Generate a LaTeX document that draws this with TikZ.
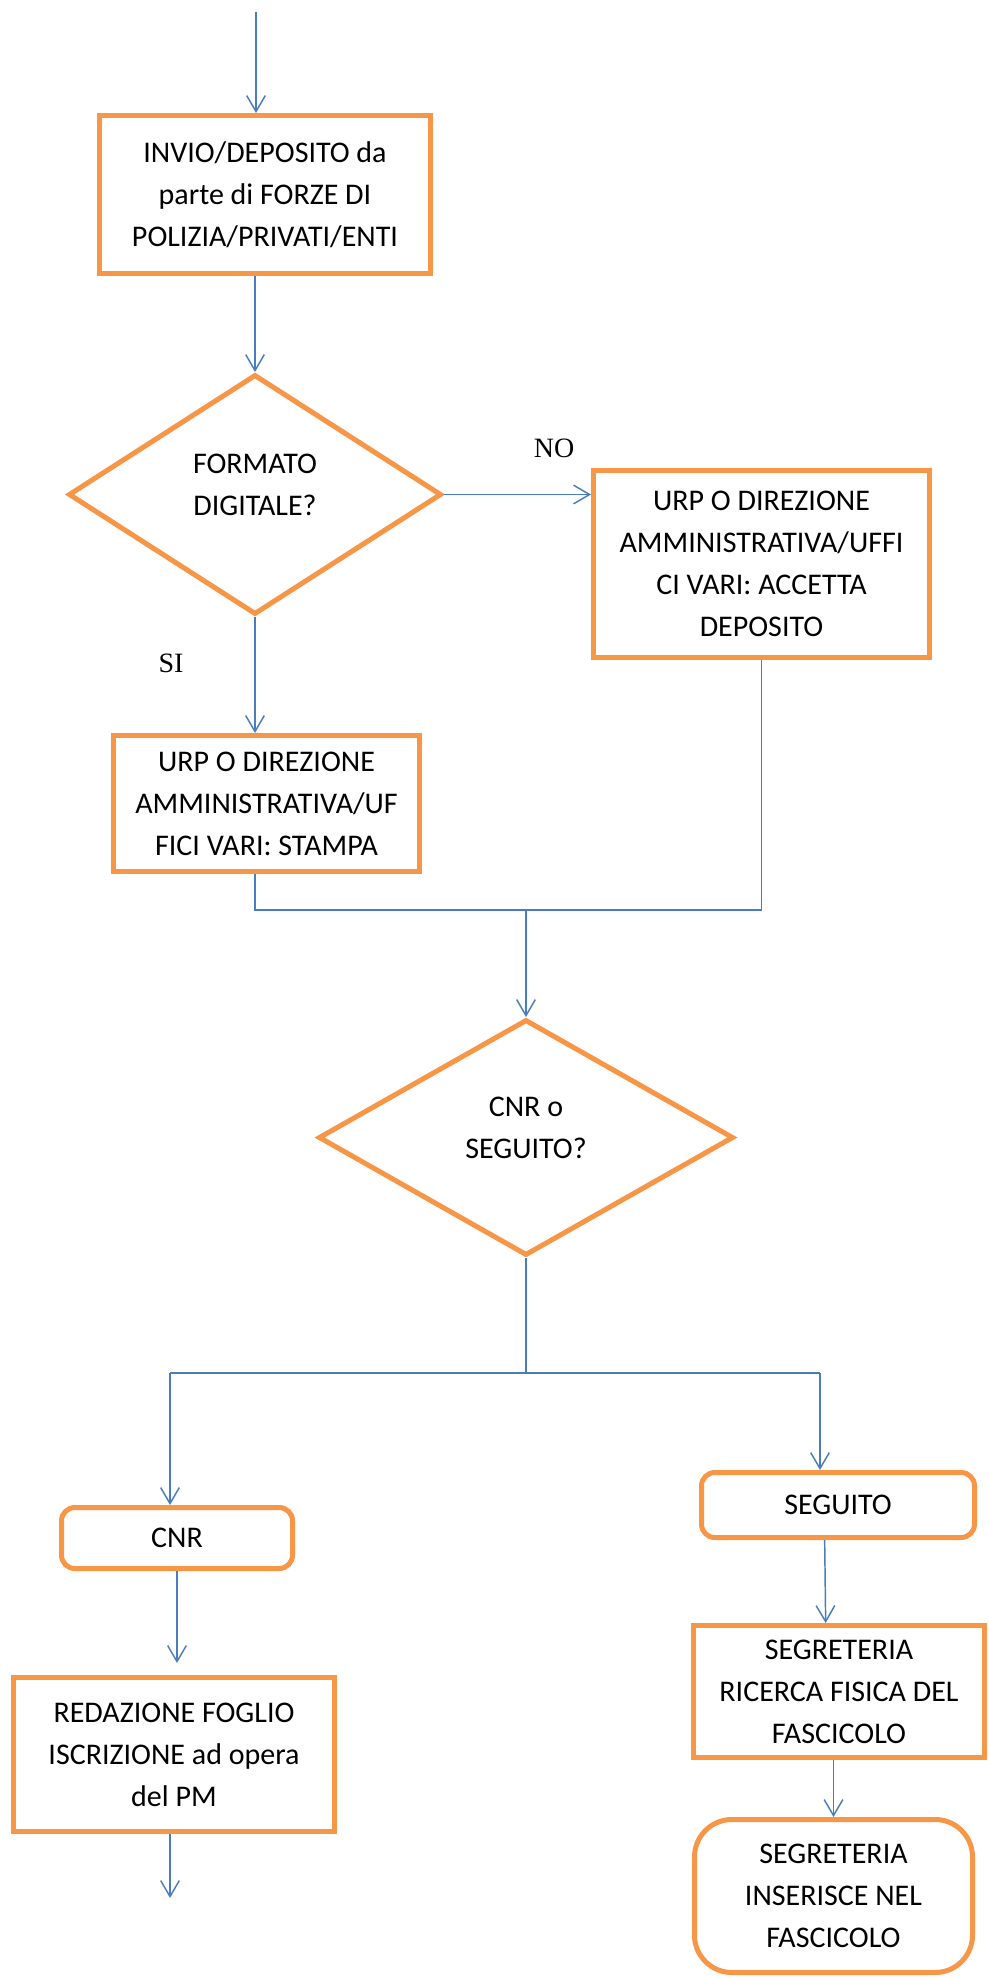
\documentclass[tikz,border=0pt]{standalone}
\usepackage{fontspec}
\setmainfont{Carlito}
\newfontfamily\labelfont{Liberation Serif}
\usetikzlibrary{arrows.meta,shapes.geometric}

\definecolor{boxorange}{HTML}{F79646}
\definecolor{lineblue}{HTML}{4A7EBB}

\begin{document}
\begin{tikzpicture}[
    x=0.75pt, y=-0.75pt,
    stepbox/.style={draw=boxorange, line width=3.75pt, align=center, inner sep=0pt,
        font=\fontsize{22.5}{31.5}\selectfont},
    roundbox/.style={stepbox, rounded corners=10pt},
    choice/.style={draw=boxorange, line width=3.75pt, diamond, align=center, inner sep=0pt,
        font=\fontsize{22.5}{31.5}\selectfont},
    flow/.style={-{Straight Barb[length=12pt,width=14pt]}, draw=lineblue, line width=1.1pt},
    joint/.style={draw=lineblue, line width=1.1pt},
    answer/.style={font=\labelfont\fontsize{21}{25}\selectfont}
]
\useasboundingbox (0,0) rectangle (989,1978);

\coordinate (start) at (256,12);
\node[stepbox, minimum width=248.25pt, minimum height=118.5pt] (invio) at (265,194.5)
    {INVIO/DEPOSITO da\\ parte di FORZE DI\\ POLIZIA/PRIVATI/ENTI};
\node[choice, minimum width=279.75pt, minimum height=180pt] (formato) at (255,494.5)
    {FORMATO\\ DIGITALE?\\[-17pt]};
\node[stepbox, minimum width=252pt, minimum height=140.25pt] (accetta) at (761.5,564)
    {URP O DIREZIONE\\ AMMINISTRATIVA/UFFI\\ CI VARI: ACCETTA\\ DEPOSITO};
\node[stepbox, minimum width=229.5pt, minimum height=102pt] (stampa) at (266.5,803.5)
    {URP O DIREZIONE\\ AMMINISTRATIVA/UF\\ FICI VARI: STAMPA};
\node[choice, minimum width=311.25pt, minimum height=177pt] (tipo) at (526,1137.5)
    {CNR o\\ SEGUITO?\\[-17pt]};
\node[roundbox, minimum width=173.25pt, minimum height=45.75pt] (cnr) at (177,1538) {CNR};
\node[stepbox, minimum width=240.75pt, minimum height=115.5pt] (redazione) at (174,1754.5)
    {REDAZIONE FOGLIO\\ ISCRIZIONE ad opera\\ del PM};
\node[roundbox, minimum width=204.75pt, minimum height=48.75pt] (seguito) at (838,1505) {SEGUITO};
\node[stepbox, minimum width=218.25pt, minimum height=99pt] (ricerca) at (839,1691.5)
    {SEGRETERIA\\ RICERCA FISICA DEL\\ FASCICOLO};
\node[roundbox, rounded corners=28pt, minimum width=208.5pt, minimum height=114.75pt] (inserisce) at (833.5,1896)
    {SEGRETERIA\\ INSERISCE NEL\\ FASCICOLO};

\node[answer] (no) at (554,448) {NO};
\node[answer] (si) at (171,663) {SI};

\coordinate (merge) at (526,910);
\coordinate (split) at (526,1373);
\coordinate (splitl) at (170,1373);
\coordinate (splitr) at (820,1373);
\coordinate (fine) at (170,1898);

\draw[flow] (start) -- (start |- invio.north);
\draw[flow] (formato.north |- invio.south) -- (formato.north);
\draw[flow] (formato.east) -- (accetta.west |- formato.east);
\draw[flow] (formato.south) -- (formato.south |- stampa.north);
\draw[joint] (formato.south |- stampa.south) |- (merge) -| (accetta.south);
\draw[flow] (merge) -- (tipo.north);
\draw[joint] (tipo.south) -- (split);
\draw[joint] (splitl) -- (splitr);
\draw[flow] (splitl) -- (splitl |- cnr.north);
\draw[flow] (splitr) -- (splitr |- seguito.north);
\draw[flow, shorten >=9pt] (cnr.south) -- (cnr.south |- redazione.north);
\draw[flow] (fine |- redazione.south) -- (fine);
\draw[flow] ([xshift=-10pt]seguito.south) -- ([xshift=-10pt]ricerca.north);
\draw[flow] (inserisce.north |- ricerca.south) -- (inserisce.north);

\end{tikzpicture}
\end{document}
